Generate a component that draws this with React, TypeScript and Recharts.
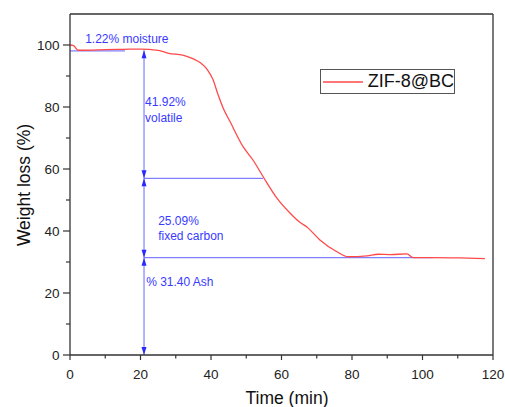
import React from 'react'
import {
  LineChart, Line, XAxis, YAxis, ReferenceLine, ReferenceDot,
} from 'recharts'

// TGA curve
const times = [0, 1, 2.3, 5, 10, 15, 19.9, 25, 28, 32, 35, 37, 39, 40.5, 42, 43.5, 45.4, 49.1, 51.9, 54.8, 58.7, 62.4, 65.2, 67.2, 70.9, 75.7, 78.9, 84.3, 87.4, 90.8, 95.6, 97.3, 103, 110.6, 117.7]
const weights = [100, 99.8, 98.3, 98.3, 98.5, 98.6, 98.7, 98.3, 97.3, 96.7, 95.5, 94.3, 92, 89, 84, 79.5, 75.3, 67.2, 62.9, 57.5, 50.6, 45.8, 42.8, 41.3, 37.1, 33.3, 31.7, 32.0, 32.5, 32.4, 32.6, 31.4, 31.4, 31.3, 31.1]

const xTicks = [0, 10, 20, 30, 40, 50, 60, 70, 80, 90, 100, 110, 120]
const yTicks = [0, 10, 20, 30, 40, 50, 60, 70, 80, 90, 100]

// annotation guides
const markX = 21
const moistureLevel = 98.1
const moistureEnd = 15.6
const volatileLevel = 98.3
const fixedLevel = 57
const fixedEnd = 54.8
const ashLevel = 31.4
const ashEnd = 103

const arrowYs = [98.3, 57, 57, 31.4, 31.4, 0]
const arrowDirs = ['up', 'down', 'up', 'down', 'up', 'down']

const noteX = [4.3, 21.3, 21.3, 25, 25, 21.6]
const noteY = [101.8, 81.7, 76.6, 43.2, 38.4, 23.5]
const noteText = ['1.22% moisture', '41.92%', 'volatile', '25.09%', 'fixed carbon', '% 31.40 Ash']

const seriesName = 'ZIF-8@BC'

const data = times.map((t, i) => ({ t, w: weights[i] }))

const FONT = '"Liberation Sans", Arial, sans-serif'
const AXIS = '#333'
const RED = '#ff4a4a'
const GUIDE = '#8080ff'
const BLUE = '#2a2aff'
const TEXT_BLUE = '#3a3aff'

function YTick({ x, y, payload }: any) {
  const major = payload.value % 20 === 0
  return (
    <g>
      <line x1={x - (major ? 7 : 4)} x2={x} y1={y} y2={y} stroke={AXIS} strokeWidth={1.2} />
      {major && (
        <text x={x - 10.5} y={y + 5} textAnchor="end" fontSize={13.5} fontFamily={FONT} fill="#222">
          {payload.value}
        </text>
      )}
    </g>
  )
}

function XTick({ x, y, payload }: any) {
  const major = payload.value % 20 === 0
  return (
    <g>
      <line x1={x} x2={x} y1={y} y2={y + (major ? 5 : 3.5)} stroke={AXIS} strokeWidth={1.2} />
      {major && (
        <text x={x} y={y + 23.5} textAnchor="middle" fontSize={13.5} fontFamily={FONT} fill="#222">
          {payload.value}
        </text>
      )}
    </g>
  )
}

function Arrow({ cx, cy, dir }: any) {
  const h = dir === 'up' ? 8 : -8
  return <path d={`M${cx},${cy} L${cx - 2.5},${cy + h} L${cx + 2.5},${cy + h} Z`} fill={BLUE} />
}

export default function App() {
  return (
    <div style={{ position: 'absolute', left: 0, top: 0, width: 505, height: 407, background: '#fff', fontFamily: FONT }}>
      <LineChart width={505} height={407} data={data} margin={{ top: 14, right: 12, bottom: 22, left: 10 }}>
        <XAxis
          dataKey="t" type="number" domain={[0, 120]} ticks={xTicks} interval={0}
          height={30} tickSize={0} tickMargin={0} tickLine={false}
          axisLine={{ stroke: AXIS, strokeWidth: 1.3 }} tick={<XTick />}
        />
        <YAxis
          type="number" domain={[0, 110]} ticks={yTicks} interval={0}
          width={60} tickSize={0} tickMargin={0} tickLine={false}
          axisLine={{ stroke: AXIS, strokeWidth: 1.3 }} tick={<YTick />}
        />
        <ReferenceLine y={110} stroke={AXIS} strokeWidth={1.3} />
        <ReferenceLine x={120} stroke={AXIS} strokeWidth={1.3} />

        <ReferenceLine segment={[{ x: 0, y: moistureLevel }, { x: moistureEnd, y: moistureLevel }]} stroke={GUIDE} strokeWidth={1.2} />
        <ReferenceLine segment={[{ x: markX, y: fixedLevel }, { x: fixedEnd, y: fixedLevel }]} stroke={GUIDE} strokeWidth={1.2} />
        <ReferenceLine segment={[{ x: markX, y: ashLevel }, { x: ashEnd, y: ashLevel }]} stroke={GUIDE} strokeWidth={1.2} />
        <ReferenceLine segment={[{ x: markX, y: 0 }, { x: markX, y: volatileLevel }]} stroke={GUIDE} strokeWidth={1.2} />

        <Line
          type="monotone" dataKey="w" name={seriesName} stroke={RED} strokeWidth={1.3}
          dot={false} activeDot={false} isAnimationActive={false}
        />

        {arrowYs.map((ay, i) => (
          <ReferenceDot
            key={'a' + i} x={markX} y={ay} r={0}
            shape={(p: any) => <Arrow cx={p.cx} cy={p.cy} dir={arrowDirs[i]} />}
          />
        ))}
        {noteText.map((s, i) => (
          <ReferenceDot
            key={'n' + i} x={noteX[i]} y={noteY[i]} r={0}
            shape={(p: any) => (
              <text x={p.cx} y={p.cy} dy={4} fontSize={12} fontFamily={FONT} fill={TEXT_BLUE}>{s}</text>
            )}
          />
        ))}
      </LineChart>

      {/* legend box */}
      <div style={{
        position: 'absolute', left: 320, top: 69, width: 133, height: 23,
        border: '1px solid #555', background: '#fff',
        display: 'flex', alignItems: 'center', whiteSpace: 'nowrap',
      }}>
        <svg width={45} height={4} style={{ marginLeft: 2, marginRight: 2 }}>
          <line x1={0} x2={40} y1={2} y2={2} stroke={RED} strokeWidth={1.3} />
        </svg>
        <span style={{ fontSize: 18, color: '#111' }}>{seriesName}</span>
      </div>

      <div style={{
        position: 'absolute', left: 287, top: 398, transform: 'translate(-50%, -50%)',
        fontSize: 17.5, color: '#111', whiteSpace: 'nowrap',
      }}>Time (min)</div>
      <div style={{
        position: 'absolute', left: 24, top: 185, transform: 'translate(-50%, -50%) rotate(-90deg)',
        fontSize: 17.5, color: '#111', whiteSpace: 'nowrap',
      }}>Weight loss (%)</div>
    </div>
  )
}
